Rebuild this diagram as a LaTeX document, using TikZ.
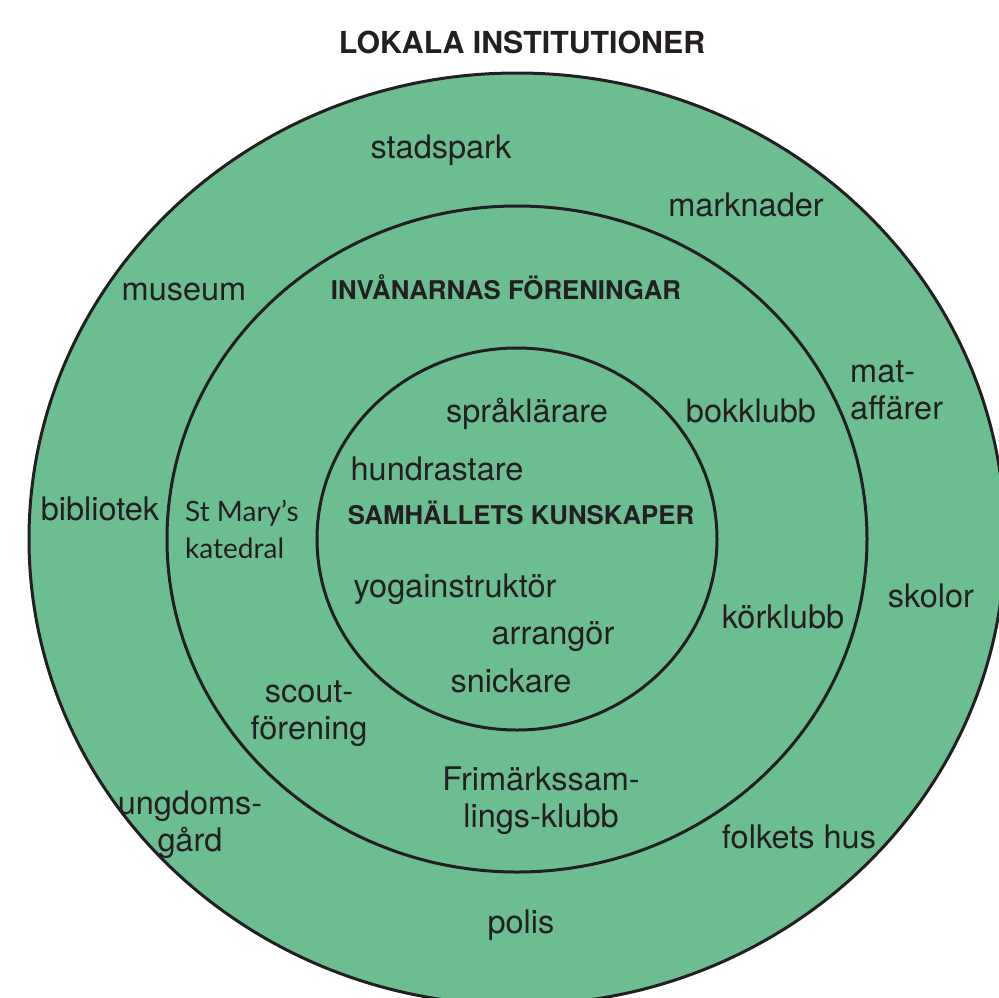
\documentclass[tikz,border=0pt]{standalone}
\usepackage{fontspec}
\setmainfont{TeX Gyre Heros}
\newfontfamily\gillfont{Lato}
\usetikzlibrary{positioning}
\definecolor{ringgreen}{HTML}{6CBE91}
\definecolor{inkdark}{HTML}{231F20}

\begin{document}
\begin{tikzpicture}[x=1pt,y=-1pt,
  ring/.style={draw=inkdark,line width=3pt,fill=ringgreen},
  lbl/.style={anchor=base,inner sep=0pt,text=inkdark,font=\fontsize{32.5}{37}\selectfont},
  ttl/.style={lbl,font=\fontsize{25.8}{30}\selectfont\bfseries},
  multi/.style={lbl,align=center}]
      \useasboundingbox (0,0) rectangle (999,997);
      \coordinate (c) at (517,539);
      % three rings, squeezed a little in height
      \draw[ring] (c) ellipse [x radius=488,y radius=466];
      \draw[ring] (c) ellipse [x radius=350,y radius=333];
      \draw[ring] (c) ellipse [x radius=200,y radius=191];
      % ring titles
      \node[ttl,font=\fontsize{30.3}{36}\selectfont\bfseries] (inst) at (522,53) {LOKALA INSTITUTIONER};
      \node[ttl] (foren) at (506,299) {INVÅNARNAS FÖRENINGAR};
      \node[ttl] (kunsk) at (521,524) {SAMHÄLLETS KUNSKAPER};
      % outer ring (base of a two-line node is its last line)
      \node[lbl] (park) at (441,158) {stadspark};
      \node[lbl] (markn) at (746,216) {marknader};
      \node[lbl] (museum) at (184,300) {museum};
      \node[lbl,anchor=base west,align=left] (mataff) at (850,419) {mat-\\affärer};
      \node[lbl] (bibl) at (100,520) {bibliotek};
      \node[lbl] (skolor) at (931,607) {skolor};
      \node[multi] (ungdom) at (190,851) {ungdoms-\\gård};
      \node[lbl] (folk) at (799,848) {folkets hus};
      \node[lbl] (polis) at (521,933) {polis};
      % middle ring
      \node[lbl] (bokkl) at (751,422) {bokklubb};
      \node[lbl,anchor=base west,align=left,font=\fontsize{28}{37}\gillfont] (kated) at (185,558) {St Mary’s\\katedral};
      \node[lbl] (korkl) at (783,628) {körklubb};
      \node[multi] (scout) at (309,739) {scout-\\förening};
      \node[multi] (frim) at (541,827) {Frimärkssam-\\lings-klubb};
      % inner ring
      \node[lbl] (sprak) at (527,422) {språklärare};
      \node[lbl] (hund) at (437,480) {hundrastare};
      \node[lbl] (yoga) at (455,597) {yogainstruktör};
      \node[lbl] (arr) at (553,644) {arrangör};
      \node[lbl] (snick) at (511,692) {snickare};
\end{tikzpicture}
\end{document}
